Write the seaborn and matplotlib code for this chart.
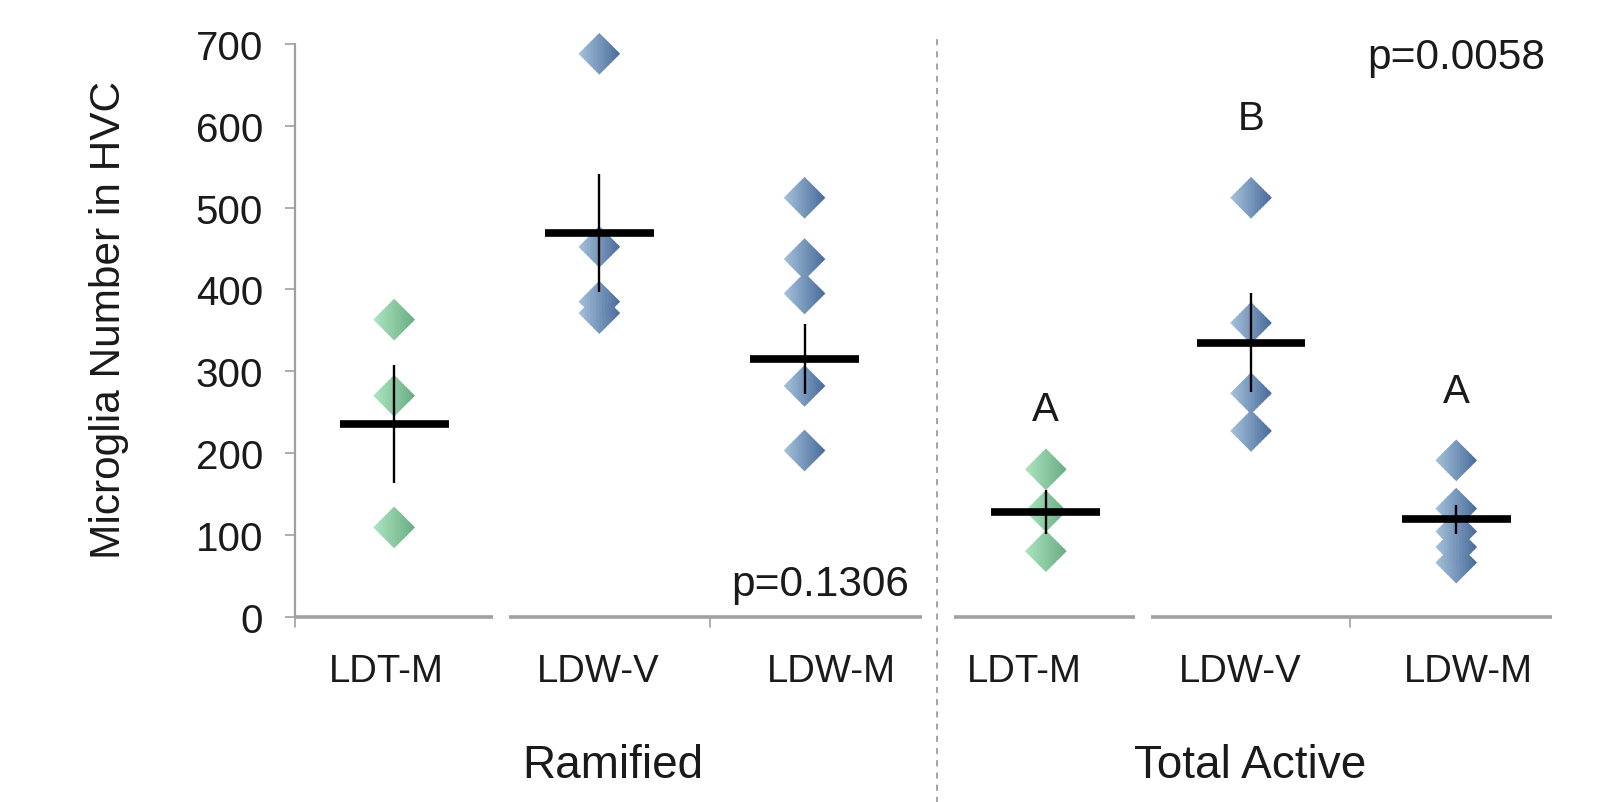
import matplotlib
matplotlib.use("Agg")
import matplotlib.pyplot as plt
from matplotlib.path import Path
from matplotlib.markers import MarkerStyle
from matplotlib.colors import to_rgb
import matplotlib.transforms as mtransforms
import numpy as np
import pandas as pd
import seaborn as sns

# data
groups = ["Ramified", "Total Active"]
cells = ["LDT-M", "LDW-V", "LDW-M"]

ramified_ldtm = [363, 270, 109]
ramified_ldwv = [688, 452, 385, 371]
ramified_ldwm = [512, 437, 395, 282, 203]
active_ldtm = [180, 129, 80]
active_ldwv = [512, 359, 273, 227]
active_ldwm = [191, 132, 104, 85, 66]

ramified_mean = [235, 469, 315]
ramified_sem = [72, 72, 43]
active_mean = [128, 335, 119]
active_sem = [27, 60, 18]

active_letters = ["A", "B", "A"]
active_letter_y = [254, 610, 276]
p_values = ["p=0.1306", "p=0.0058"]

# general plotting settings
sns.set_theme(style="white")
plt.rcParams["font.family"] = ["Liberation Sans", "DejaVu Sans"]

GROUP_GAP = 3.176   # x offset of the second panel
gray = "#a0a0a0"
txt = "#1a1a1a"

points = {
    ("Ramified", "LDT-M"): ramified_ldtm, ("Ramified", "LDW-V"): ramified_ldwv,
    ("Ramified", "LDW-M"): ramified_ldwm, ("Total Active", "LDT-M"): active_ldtm,
    ("Total Active", "LDW-V"): active_ldwv, ("Total Active", "LDW-M"): active_ldwm,
}
rows = []
for gi, g in enumerate(groups):
    for ci, c in enumerate(cells):
        for v in points[(g, c)]:
            rows.append({"group": g, "cell": c, "value": v, "x": gi * GROUP_GAP + ci})
df = pd.DataFrame(rows)

summary = pd.DataFrame({
    "group": np.repeat(groups, 3),
    "cell": cells * 2,
    "mean": ramified_mean + active_mean,
    "sem": ramified_sem + active_sem,
})
summary["x"] = [gi * GROUP_GAP + ci for gi in range(2) for ci in range(3)]
# category labels sit a little off the marker column in the original
label_shift = [-0.04, -0.005, 0.13, -0.105, -0.055, 0.06]


def diamond_strip(a, b):
    # vertical strip [a, b] of the unit diamond |x|+|y|<=1
    xs = [a, 0.0, b] if a < 0 < b else [a, b]
    top = [(x, 1 - abs(x)) for x in xs]
    bot = [(x, -(1 - abs(x))) for x in reversed(xs)]
    verts = top + bot + [top[0]]
    codes = [Path.MOVETO] + [Path.LINETO] * (len(verts) - 2) + [Path.CLOSEPOLY]
    # corner moves keep every strip on the same marker scale
    verts += [(-1, -1), (1, 1)]
    codes += [Path.MOVETO, Path.MOVETO]
    return MarkerStyle(Path(verts, codes))


def blend(c1, c2, t):
    c1, c2 = np.array(to_rgb(c1)), np.array(to_rgb(c2))
    return tuple(c1 + (c2 - c1) * t)


fig, ax = plt.subplots(figsize=(16.06, 8.03), dpi=100)
fig.subplots_adjust(left=0.1837, right=0.9664, bottom=0.2309, top=0.944)

# gradient diamonds, drawn strip by strip
n_strips = 14
edges = np.linspace(-1, 1, n_strips + 1)
for i in range(n_strips):
    t = (i + 0.5) / n_strips
    green = blend("#ace6c0", "#68ab82", t)
    blue = blend("#a6c3db", "#47699a", t)
    pal = {"LDT-M": green, "LDW-V": blue, "LDW-M": blue}
    b = min(edges[i + 1] + 0.03, 1.0)
    sns.scatterplot(data=df, x="x", y="value", hue="cell", palette=pal,
                    marker=diamond_strip(edges[i], b), s=900, linewidth=0,
                    edgecolor="none", legend=False, clip_on=False, ax=ax, zorder=2)

# mean and sem
ax.hlines(summary["mean"], summary["x"] - 0.265, summary["x"] + 0.265,
          color="black", lw=5.5, zorder=4)
ax.vlines(summary["x"], summary["mean"] - summary["sem"], summary["mean"] + summary["sem"],
          color="black", lw=1.7, zorder=4)

ax.set_xlim(-0.483, 5.643)
ax.set_ylim(0, 700)
ax.set_yticks(range(0, 701, 100))
ax.tick_params(axis="y", left=True, length=7, width=1.2, color=gray, pad=16, labelsize=29)
ax.set_xticks([])
for lab in ax.get_yticklabels():
    lab.set_color(txt)

for side in ["top", "right", "bottom"]:
    ax.spines[side].set_visible(False)
ax.spines["left"].set_color(gray)
ax.spines["left"].set_linewidth(1.6)

ax.set_ylabel("Microglia Number in HVC", fontsize=30.5, color=txt)
ax.yaxis.set_label_coords(-0.132, 0.52)
ax.set_xlabel("")

trans = mtransforms.blended_transform_factory(ax.transData, ax.transAxes)

# category labels
for xc, dx, c in zip(summary["x"], label_shift, summary["cell"]):
    ax.text(xc + dx, -0.095, c, transform=trans, ha="center", va="center",
            fontsize=27.5, color=txt)

# broken baseline as in the original chart
for x0, x1 in [(-0.483, 0.482), (0.560, 2.573), (2.729, 3.611), (3.689, 5.643)]:
    ax.plot([x0, x1], [0, 0], color=gray, lw=2.6, clip_on=False, zorder=1,
            solid_capstyle="butt")
for xt in [-0.483, 1.54, 4.66]:
    ax.plot([xt, xt], [0, -0.018], color=gray, lw=1.2, transform=trans, clip_on=False)

# panel divider
ax.axvline(2.644, ymin=-0.33, ymax=1.016, color="#8c8c8c", lw=1.1,
           linestyle=(0, (4, 4)), clip_on=False)

# group labels
for gx, g in zip([1.065, 4.17], groups):
    ax.text(gx, -0.26, g, transform=trans, ha="center", va="center",
            fontsize=33, color=txt)

# significance letters and p-values
for ci, (letter, ly) in enumerate(zip(active_letters, active_letter_y)):
    ax.text(GROUP_GAP + ci, ly, letter, ha="center", va="center", fontsize=29, color=txt)
ax.text(2.51, 40, p_values[0], ha="right", va="center", fontsize=30.5, color=txt)
ax.text(5.61, 684, p_values[1], ha="right", va="center", fontsize=30.5, color=txt)

plt.savefig("out.png", dpi=100)
plt.close("all")
